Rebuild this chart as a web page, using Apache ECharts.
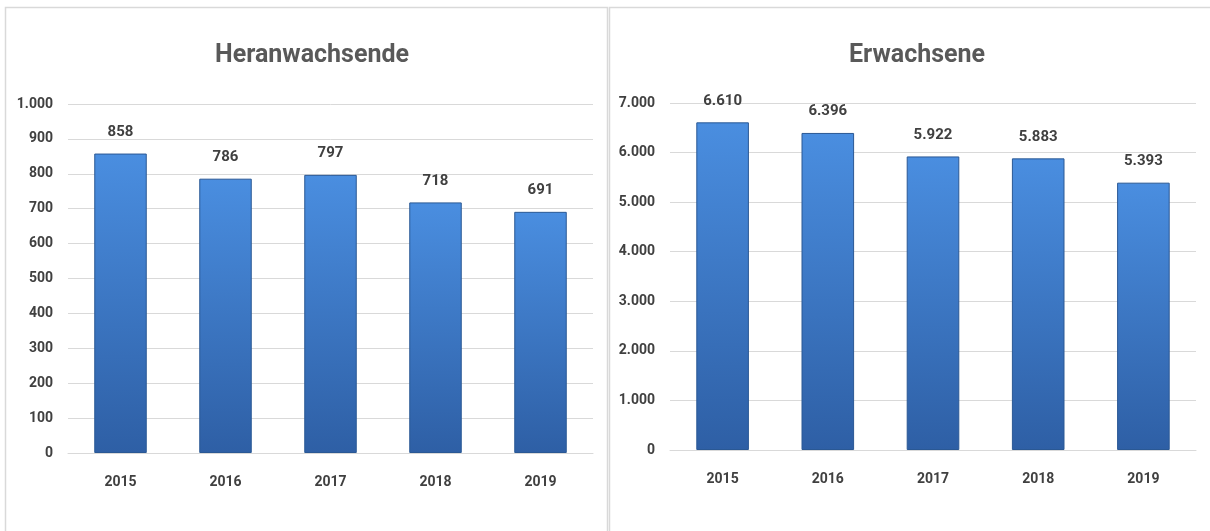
<!DOCTYPE html>
<html><head><meta charset="utf-8">
<script src="https://cdn.jsdelivr.net/npm/echarts@6/dist/echarts.min.js"></script>
<style>html,body{margin:0;padding:0;background:#fff}#c{width:1210px;height:531px}</style>
</head><body><div id="c"></div>
<script>
const years = ['2015','2016','2017','2018','2019'];
const heranwachsende = [858, 786, 797, 718, 691];
const erwachsene = [6610, 6396, 5922, 5883, 5393];
const titles = ['Heranwachsende', 'Erwachsene'];

const FONT = "Roboto,'Liberation Sans',sans-serif";
const fmt = v => String(v).replace(/\B(?=(\d{3})+(?!\d))/g, '.');
const barColor = new echarts.graphic.LinearGradient(0,0,0,1,[
  {offset:0,color:'#4a8ee0'},{offset:1,color:'#2e5fa5'}]);

function mkY(idx, max, interval){
  return {gridIndex: idx, min: 0, max: max, interval: interval,
    axisLine:{show:false}, axisTick:{show:false},
    splitLine:{lineStyle:{color:'#d9d9d9', width:1}},
    axisLabel:{color:'#404040', fontFamily:FONT, fontSize:14, fontWeight:'bold', formatter: fmt, margin:15}};
}
function mkX(idx){
  return {gridIndex: idx, type:'category', data: years,
    axisLine:{lineStyle:{color:'#d9d9d9'}}, axisTick:{show:false},
    axisLabel:{color:'#404040', fontFamily:FONT, fontSize:14, fontWeight:'bold', margin:22}};
}
function mkS(idx, data){
  return {type:'bar', xAxisIndex: idx, yAxisIndex: idx, data: data, barWidth:'50%',
    itemStyle:{color: barColor, borderColor:'#2a5894', borderWidth:1},
    label:{show:true, position:'top', distance:14, color:'#404040', fontFamily:FONT, fontSize:15, fontWeight:'bold', formatter: p => fmt(p.value)}};
}

const chart = echarts.init(document.getElementById('c'), null, {renderer:'canvas'});
chart.setOption({
  animation:false,
  backgroundColor:'#fff',
  graphic:[
    {type:'rect', shape:{x:5.5, y:7.5, width:602, height:530}, style:{fill:'none', stroke:'#d9d9d9', lineWidth:1.5}},
    {type:'rect', shape:{x:609.5, y:7.5, width:602, height:530}, style:{fill:'none', stroke:'#d9d9d9', lineWidth:1.5}}
  ],
  title:[
    {text: titles[0], left: 307, top: 38, textAlign:'center', textStyle:{color:'#595959', fontFamily:FONT, fontSize:25, fontWeight:'bold'}},
    {text: titles[1], left: 912, top: 38, textAlign:'center', textStyle:{color:'#595959', fontFamily:FONT, fontSize:25, fontWeight:'bold'}}
  ],
  grid:[
    {left:68, right:617, top:104, bottom:78},
    {left:670, right:14, top:103, bottom:81}
  ],
  xAxis:[mkX(0), mkX(1)],
  yAxis:[mkY(0, 1000, 100), mkY(1, 7000, 1000)],
  series:[mkS(0, heranwachsende), mkS(1, erwachsene)]
});
</script></body></html>
